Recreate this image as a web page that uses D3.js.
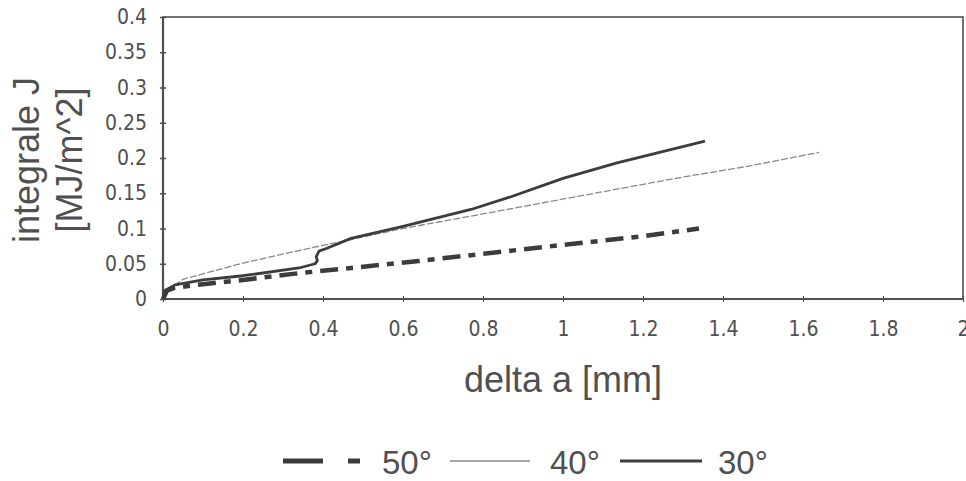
<!DOCTYPE html>
<html>
<head>
<meta charset="utf-8">
<script src="https://cdn.jsdelivr.net/npm/d3@7"></script>
<style>
  body { margin: 0; background: #fff; }
  svg { display: block; }
</style>
</head>
<body>
<div id="chart"></div>
<script>
// series: [delta a (mm), J (MJ/m^2)]
const serie50 = [
    [0, 0], [0.01, 0.012], [0.03, 0.016], [0.1, 0.021], [0.2, 0.027],
    [0.33, 0.036], [0.47, 0.044], [0.64, 0.054], [0.83, 0.066],
    [1.02, 0.078], [1.2, 0.089], [1.34, 0.1]
];

const serie40 = [
    [0, 0], [0.01, 0.012], [0.05, 0.028], [0.2, 0.051], [0.35, 0.07],
    [0.6, 0.1], [0.86, 0.127], [1.05, 0.147], [1.3, 0.173],
    [1.46, 0.188], [1.64, 0.208]
];

const serie30 = [
    [0, 0], [0.005, 0.012], [0.03, 0.02], [0.1, 0.027], [0.2, 0.033],
    [0.34, 0.044], [0.38, 0.05], [0.386, 0.054], [0.383, 0.06],
    [0.39, 0.068], [0.41, 0.072], [0.47, 0.086], [0.6, 0.103],
    [0.77, 0.127], [0.87, 0.145], [1.0, 0.171], [1.135, 0.193], [1.355, 0.224]
];

const xTicks = [0, 0.2, 0.4, 0.6, 0.8, 1, 1.2, 1.4, 1.6, 1.8, 2];
const yTicks = [0, 0.05, 0.1, 0.15, 0.2, 0.25, 0.3, 0.35, 0.4];
const legendLabels = ["50°", "40°", "30°"];

const width = 966, height = 481;
const margin = { top: 17, right: 3, bottom: 182, left: 163 };
const grey = "#505050";
const tickFont = "'DejaVu Sans Condensed', 'DejaVu Sans', sans-serif";
const titleFont = "'Liberation Sans', Arial, sans-serif";

const svg = d3.select("#chart").append("svg")
    .attr("width", width)
    .attr("height", height);

const x = d3.scaleLinear().domain([0, 2]).range([margin.left, width - margin.right]);
const y = d3.scaleLinear().domain([0, 0.4]).range([height - margin.bottom, margin.top]);

// frame
svg.append("rect")
    .attr("x", x(0)).attr("y", y(0.4))
    .attr("width", x(2) - x(0)).attr("height", y(0) - y(0.4))
    .attr("fill", "none").attr("stroke", grey).attr("stroke-width", 1.6);

// y axis
const yAxis = svg.append("g")
    .attr("transform", `translate(${x(0) + 3},0)`)
    .call(d3.axisLeft(y).tickValues(yTicks).tickSize(6).tickPadding(13)
        .tickFormat(d => d3.format("~g")(d)));
yAxis.select(".domain").remove();
yAxis.selectAll("line").attr("stroke", grey).attr("stroke-width", 1.5);
yAxis.selectAll("text")
    .attr("fill", grey).style("font-family", tickFont).style("font-size", "21px");

// x axis
const xAxis = svg.append("g")
    .attr("transform", `translate(0,${y(0) + 3})`)
    .call(d3.axisBottom(x).tickValues(xTicks).tickSize(-6).tickPadding(19)
        .tickFormat(d => d3.format("~g")(d)));
xAxis.select(".domain").remove();
xAxis.selectAll("line").attr("stroke", grey).attr("stroke-width", 1.2);
xAxis.selectAll("text")
    .attr("fill", grey).style("font-family", tickFont).style("font-size", "21px");

// thicker left/bottom axis lines
svg.append("line")
    .attr("x1", x(0)).attr("x2", x(0)).attr("y1", y(0.4)).attr("y2", y(0))
    .attr("stroke", grey).attr("stroke-width", 2.2);
svg.append("line")
    .attr("x1", x(0)).attr("x2", x(2)).attr("y1", y(0)).attr("y2", y(0))
    .attr("stroke", grey).attr("stroke-width", 2.2);

const lineLin = d3.line().x(d => x(d[0])).y(d => y(d[1]));

// 40 deg - thin light line
svg.append("path")
    .datum(serie40)
    .attr("d", lineLin)
    .attr("fill", "none")
    .attr("stroke", "#8a8a8a")
    .attr("stroke-width", 1.3)
    .attr("stroke-dasharray", "7,2");

// 50 deg - thick dash dot
svg.append("path")
    .datum(serie50)
    .attr("d", lineLin)
    .attr("fill", "none")
    .attr("stroke", "#3c3c3c")
    .attr("stroke-width", 4.5)
    .attr("stroke-dasharray", "18,8,7,8");

// 30 deg - solid
svg.append("path")
    .datum(serie30)
    .attr("d", lineLin)
    .attr("fill", "none")
    .attr("stroke", "#3c3c3c")
    .attr("stroke-width", 2.8)
    .attr("stroke-linejoin", "round");

// axis titles
const yTitle = svg.append("text")
    .attr("transform", "translate(39,160) rotate(-90)")
    .attr("text-anchor", "middle")
    .attr("fill", grey)
    .style("font-family", titleFont)
    .style("font-size", "36px");
yTitle.append("tspan").attr("x", 0).attr("y", 0).text("integrale J");
yTitle.append("tspan").attr("x", 0).attr("y", 43).text("[MJ/m^2]");

svg.append("text")
    .attr("x", 563).attr("y", 392)
    .attr("text-anchor", "middle")
    .attr("fill", grey)
    .style("font-family", titleFont)
    .style("font-size", "36px")
    .text("delta a [mm]");

// legend
const legY = 461;
const legend = svg.append("g");
legend.append("line")
    .attr("x1", 283).attr("x2", 360).attr("y1", legY).attr("y2", legY)
    .attr("stroke", "#3c3c3c").attr("stroke-width", 5)
    .attr("stroke-dasharray", "40,25,12,200");
legend.append("line")
    .attr("x1", 450).attr("x2", 530).attr("y1", legY).attr("y2", legY)
    .attr("stroke", "#8a8a8a").attr("stroke-width", 1.4);
legend.append("line")
    .attr("x1", 620).attr("x2", 702).attr("y1", legY).attr("y2", legY)
    .attr("stroke", "#3c3c3c").attr("stroke-width", 3);

const legX = [382, 550, 718];
legend.selectAll("text.leg")
    .data(legendLabels)
    .enter()
    .append("text")
    .attr("class", "leg")
    .attr("x", (d, i) => legX[i])
    .attr("y", 474)
    .attr("fill", grey)
    .style("font-family", titleFont)
    .style("font-size", "33px")
    .text(d => d);
</script>
</body>
</html>
